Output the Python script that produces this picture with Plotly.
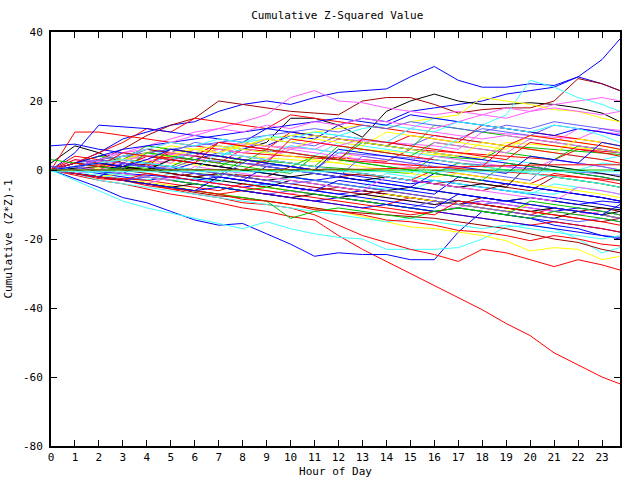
import plotly.graph_objects as go

hours = list(range(24)) + [23.75]
x_tick_vals = list(range(24))
y_tick_vals = [-80, -60, -40, -20, 0, 20, 40]

s01 = [0, 2, 5, 9, 11, 13, 14, 17, 19, 20, 19, 21, 22.5, 23, 23.5, 27, 30, 26, 24, 24, 25, 24.5, 27, 25, 23]
s02 = [0, 1, 0, -1, 2, 4, 3, 5, 8, 7, 10, 9, 13, 15, 14, 17, 18, 19, 20, 22, 23, 24, 27, 32, 38]
s03 = [0, 1, 2, 3, 5, 6, 5, 4, 6, 8, 15, 15, 13, 9.5, 17, 20, 22, 20, 19, 19, 19.5, 19, 18, 16.5, 14]
s04 = [0, 1, 3, 6, 10, 13, 15, 20, 19, 18, 17, 16.5, 16, 20, 21, 21, 19, 16.5, 17.5, 18, 18, 20, 26.5, 25, 23]
s05 = [0, 2, 4, 5, 7, 9, 11, 12, 14, 16, 21, 23, 20, 19.5, 18, 17, 16, 17, 16, 18, 17, 19, 20, 21, 20]
s06 = [0, -1, 0, 1, 2, 4, 5, 6, 8, 9, 10, 11, 10, 12, 13, 12, 15, 14, 13, 16, 26, 24, 21, 19, 17]
s07 = [0, 1, 2, 3, 4, 4, 5, 6, 7, 9, 10, 11, 12, 13, 12, 14, 15, 16, 21, 20, 19, 17.5, 17, 15, 14]
s08 = [0, -1.5, -3, -4, -5.5, -7, -8, -9.5, -11, -12, -13.5, -14.5, -19, -23, -26.5, -30, -33.5, -37, -40.5, -44.5, -48, -53, -56.5, -60, -62]
s09 = [0, -2.5, -5, -8, -9.5, -12, -14.5, -16, -15.5, -18.5, -21.5, -25, -24, -24.5, -24.5, -26, -26, -18, -12, -13, -14, -16, -17, -19, -20]
s10 = [0, -3, -6, -9, -11, -12.5, -14, -15.5, -17, -15, -17, -18.5, -19.5, -20, -23, -23, -23, -22.5, -20, -16.5, -16, -17, -20, -24, -22.5]
s11 = [0, -1, -2, -3, -4.5, -5.5, -7, -8, -9.5, -10, -11, -13, -16, -19, -21, -23, -24.5, -26.5, -23, -24, -26, -28, -26, -27.5, -29]
s12 = [0, -1, -2, -3, -3.5, -4.5, -6, -7, -8, -9, -10, -11, -12, -13.5, -15, -16.5, -17, -18, -19, -20.5, -23.5, -22.5, -23, -26, -25]
s13 = [0, -1, -2, -3, -4, -5, -6.5, -7.5, -8, -9, -10, -11, -12, -12.5, -13, -13.5, -14, -15, -16, -17, -18.5, -20, -21, -23, -24]
s14 = [0, 2, 1.5, 1, 4, 3.5, 3, 2, 6, 5.5, 5, 4, 3.5, 3, 2.5, 6, 5.5, 5, 4.5, 4, 3.5, 3, 6, 5.5, 5]
s15 = [0, -1, -2, 1, 0.5, 0, -1, -1.5, 3, 2.5, 2, 1, 0.5, 0, -0.5, -1, 4, 3.5, 3, 7, 6.5, 6, 5.5, 5, 4.5]
s16 = [1, 0, -1, -2, -3, -2, -3, -4, -5, -4, -5, -6, -7, -6, -7, -8, -9, -10, -9, -10, -11, -12, -11, -12, -13]
s17 = [0, 3, 2.5, 2, 5, 4.5, 4, 8, 7.5, 7, 6.5, 6, 9, 8.5, 8, 7.5, 7, 6, 11, 10.5, 10, 9.5, 9, 12, 11.5]
s18 = [0, -1, -1.5, -2.5, -3, -1, -2, -3, -4, -4.5, -2, -3, -4, -5, -5.5, -6, -3, -4, -5, -6, -6.5, -7, -5, -6, -7]
s19 = [0, 1, 3, 2, 1.5, 1, 0, -1, -1.5, -2, 1, 0, -1, -1.5, -2, -3, -4, -3, -4, -5, -6, -2, -3, -4, -5]
s20 = [0, 1, 0.5, 3, 2.5, 2, 1.5, 1, 4, 3.5, 3, 2.5, 2, 6, 5.5, 5, 4.5, 4, 3.5, 8, 7.5, 7, 6.5, 6, 5.5]
s21 = [2, 7, 5, 2, 1, -1, -2, -3, -4, -5, -3, -4, -5, -6, -7, -8, -9, -10, -11, -12, -13, -14, -12, -13, -14]
s22 = [0, 1, 2, 1.5, 1, 0.5, 3, 2.5, 2, 1.5, 1, 0, 5, 4.5, 4, 3.5, 3, 2, 1.5, 1, 0.5, 0, -0.5, -1, -1.5]
s23 = [0, -1, -2, -2.5, -3, -4, -5, -6, -4, -5, -6, -7, -8, -9, -10, -8, -9, -10, -11, -12, -13, -11, -12, -13, -14]
s24 = [0, 1, 2, 3, 2, 1, 4, 3, 2, 6, 5, 4, 3, 2, 1, 0, -1, 2, 1, 0, -1, -2, -3, -4, -5]
s25 = [7, 7.5, 6, 5, 4, 3, 5, 4, 3, 2, 1, 0, -1, -2, -3, -4, -3, -4, -5, -6, -7, -8, -9, -10, -11]
s26 = [0, -1, -2, -3, -4, -2, -3, -4, -5, -6, -7, -5, -6, -7, -8, -9, -10, -11, -9, -10, -11, -12, -13, -12, -13]
s27 = [0, 1, 3, 5, 4, 6, 5, 4, 7, 6, 5, 4, 8, 7, 6, 5, 4, 3, 2, 3, 2, 1, 0, 2, 1.5]
s28 = [0, 2, 1, 0, -1, -2, -1, -2, -3, -4, -5, -6, -5, -6, -7, -8, -9, -10, -8, -9, -10, -11, -12, -11, -12]
s29 = [0, -1, -2, -1, -2, -3, -4, -5, -6, -5, -6, -7, -8, -9, -7, -8, -9, -10, -11, -12, -10, -11, -12, -13, -14]
s30 = [0, 0.5, 1, 0.5, 0, -1, -2, -1, -2, -3, -2, -3, -4, -5, -6, -5, -6, -7, -8, -9, -8, -9, -10, -11, -11.5]
s31 = [0, 2, 4, 3, 6, 5, 8, 7, 6, 9, 8, 7, 10, 9, 8, 7, 10, 9, 12, 11, 10, 13, 12, 11, 10]
s32 = [0, 1, 0, 3, 2, 5, 4, 8, 7, 6, 11, 10, 9, 8, 7, 10, 9, 8, 13, 12, 11, 10, 9, 8, 7]
s33 = [0, 1, 2, 1, 0, 3, 2, 1, 4, 3, 2, 1, 7, 6, 5, 4, 8, 7, 6, 5, 4, 3, 7, 6, 5]
s34 = [0, -1, -2, -3, -2, -3, -4, -5, -6, -7, -8, -9, -8, -9, -10, -11, -12, -11, -12, -13, -14, -15, -16, -17, -18]
s35 = [0, 1, 2, 4, 3, 2, 6, 5, 4, 3, 7, 6, 5, 4, 3, 2, 8, 7, 6, 5, 9, 8, 12, 11, 10.5]
s36 = [0, -1, -0.5, -1.5, -2, -3, -2.5, -3.5, 0, -1, -2, -3, -4, -5, -1, -2, -3, -4, -5, -6, -7, -4, -5, -6, -7]
s37 = [0, 1, 2, 1, 0, -1, -2, -1, -2, -3, -4, -5, -6, -7, -6, -7, -8, -9, -10, -11, -12, -13, -14, -15, -14]
s38 = [0, 2, 4, 3, 5, 7, 6, 5, 8, 7, 6, 9, 8, 7, 11, 10, 9, 8, 7, 6, 10, 9, 8, 7, 6]
s39 = [0, -1, -2, -3, -4, -5, -4, -5, -6, -7, -8, -7, -8, -7, -8, -9, -10, -9, -10, -11, -12, -11, -12, -13, -12]
s40 = [0, -1, -2, -3, -2, -3, -4, -5, -6, -7, -6, -7, -8, -9, -10, -11, -9, -10, -11, -12, -13, -14, -15, -14, -15]
s41 = [0, 3, 2, 1, 4, 3, 2, 1, 0, 3, 2, 1, 0, -1, -2, -3, 0, -1, -2, -3, -4, -1, -2, -3, -4]
s42 = [0, 1, 0, -1, -2, -3, -4, -5, -6, -5, -6, -7, -8, -9, -10, -11, -12, -11, -12, -13, -14, -12, -13, -14, -15]
s43 = [0, 1, 3, 2, 1, 0, 2, 1, 0, -1, -2, -3, -2, -3, -4, -5, -6, -7, -8, -9, -8, -9, -10, -9, -9.5]
s44 = [0, -1, 0, 2, 1, 3, 2, 5, 4, 3, 6, 5, 4, 3, 2, 1, 4, 3, 2, 1, 0, 3, 2, 1, 0]
s45 = [0, 1, 2, 3, 4, 3, 5, 4, 6, 5, 7, 6, 5, 8, 7, 6, 5, 9, 8, 7, 6, 5, 4, 3, 4]
s46 = [0, -1, -2, -3, -4, -5, -6, -7, -6, -7, -8, -9, -10, -11, -12, -13, -12, -13, -14, -15, -16, -15, -16, -17, -18]
s47 = [0, -1, -2, -3, -4, -5, -6, -5, -6, -7, -8, -9, -10, -11, -10, -11, -12, -13, -14, -15, -16, -17, -18, -19, -19.5]
s48 = [0, 2, 4, 3, 7, 6, 5, 4, 3, 2, 1, 4, 3, 8, 7, 6, 13, 12, 11, 10, 9, 8, 7, 6, 5]
s49 = [0, 2, 5, 8, 12, 11, 15, 14, 13, 12, 16, 15, 14, 13, 12, 11, 10, 9, 8, 7, 10, 9, 8, 7, 6]
s50 = [0, 11, 11, 10, 9, 8, 7, 6, 5, 4.5, 4, 3.5, 3, 2.5, 2, 1.5, 1, 0.5, 0, -0.5, -1, -1.5, -2, -2.5, -3]
s51 = [0, 5, 13, 12.5, 12, 11, 10, 9, 8, 12, 11, 10, 9, 8, 7, 6, 5, 4, 3, 2, 1, 0, -1, -2, -3]
s52 = [0, 1, 2, 3, 2, 1, 0, -1, -2, -3, -4, -3, -4, -5, -6, -7, -8, -9, -10, -9, -10, -11, -12, -13, -14]
s53 = [0, 1, 2, 4, 6, 5, 4, 3, 2, 1, 0, -1, -2, -1, -2, -3, -4, -5, -6, -4, -5, -6, -7, -8, -9]
s54 = [0, 1, 2, 3, 4, 5, 6, 7, 6, 5, 4, 3, 2, 1, 0, -1, -2, -1, -2, -3, -4, -5, -6, -7, -8]
s55 = [0, -1, -3, -4, -5, -6, -7, -8, -9, -10, -11, -12, -13, -14, -15, -14, -15, -16, -17, -16, -17, -18, -19, -20, -19]
s56 = [0, -1, -2, -3, -4, -5, -6, -7, -8, -9, -14, -12, -11, -12, -13, -14, -12, -11, -12, -13, -9, -10, -11, -12, -13]
s57 = [0, -1, -2.5, -3, -4, -5.5, -6, -7, -8.5, -9, -10, -11.5, -12, -13, -14.5, -15, -16, -17.5, -18, -19, -20.5, -19, -20, -21.5, -22]
s58 = [0, 1, -0.5, -1, -1.5, -2, -3, -2, -3, -4, -5, -6, -3, -4, -5, -6, -7, -2, -3, -4, -5, -6, -7, -8, -9]
s59 = [0, 1, 2, 3, 4, 5, 4, 6, 5, 7, 6, 8, 7, 9, 8, 12, 11, 10, 9, 10, 9, 8, 7, 6, 5]
s60 = [0, 1, 2, 1, 0, 3, 2, 1, 0, -1, -2, -1, -2, -3, -2, -3, -4, -5, -4, -5, 2, 1, 0, -1, -2]
s61 = [0, 2, 3, 4, 5, 6, 7, 8, 9, 10, 11, 12, 11, 13, 12, 14, 13, 12, 11, 13, 12, 14, 13, 12, 11]
s62 = [0, 2, 4, 6, 7, 8, 9, 10, 11, 12, 13, 14, 15, 14, 13, 16, 15, 14, 13, 12, 11, 10, 12, 11, 10]
s63 = [0, 1, 3, 5, 6, 8, 10, 12, 11, 13, 12, 14, 13, 15, 14, 13, 12, 14, 16, 15, 17, 18, 17, 16, 17]
s64 = [0, 1, 2, 4, 6, 8, 7, 9, 8, 10, 9, 11, 10, 9, 8, 12, 11, 14, 13, 12, 11, 13, 12, 10, 8]
s65 = [0, 1, 2, 3, 5, 4, 6, 5, 7, 9, 8, 10, 9, 8, 7, 6, 5, 4, 8, 7, 6, 5, 9, 8, 7]
s66 = [0, 0, 0, 0, 0, 0, 0, 0, 0, 0, 0, 0, 0, 0.2, 0.4, 0.6, 0.8, 1, 1.2, 1.3, 1.4, 1.5, 1.5, 1.5, 1.5]
s67 = [0, 0, 0, 0, 0, 0, 0, 0, 0, 0, 0, 0, 0, 0, 0, 0, 0, 0, 0, 0, 0, 0, 0, 0, 0]
s68 = [-0.5, -0.5, -0.5, -0.5, -0.5, -0.5, -0.5, -0.5, -0.5, -0.5, -0.5, -0.5, -0.5, -0.5, -0.5, -0.5, -0.5, -0.5, -0.5, -0.5, -0.5, -0.5, -0.5, -0.5, -0.5]
s69 = [0, 4, 3, 2, 1, 6, 5, 4, 3, 2, 9, 8, 7, 6, 5, 4, 3, 2, 1, 7, 6, 5, 4, 3, 2]
s70 = [0, -1, -2, 2, 1, 0, -1, -2, -3, 1, 0, -1, -2, -3, -4, -5, -1, -2, -3, -4, -5, -6, -7, -8, -9]
s71 = [3, 2, 1, 0, 5, 4, 3, 2, 1, 0, -1, 4, 3, 2, 1, 0, -1, -2, -3, 2, 1, 0, -1, -2, -3]
s72 = [0, 1, 0, -1, -2, -3, 1, 0, -1, -2, -3, -4, -5, -6, -2, -3, -4, -5, -6, -7, -8, -9, -5, -6, -7]
s73 = [0, 2, 1, 5, 4, 3, 2, 8, 7, 6, 5, 4, 3, 9, 8, 7, 6, 5, 4, 3, 8, 7, 6, 5, 4]
s74 = [0, -1, -2, -3, -4, -5, -6, -2, -3, -4, -5, -6, -7, -8, -9, -10, -11, -7, -8, -9, -10, -11, -12, -13, -10]
s75 = [1, 0, 3, 2, 1, 0, -1, -2, 2, 1, 0, -1, -2, 4, 3, 2, 1, 0, -1, -2, -3, 3, 2, 1, 0]
s76 = [0, 1, 2, 3, 2, 1, 0, 5, 4, 3, 2, 1, 0, -1, -2, -3, 3, 2, 1, 0, -1, -2, -3, -4, -5]
s77 = [0, -1, -2, -3, -1, -2, -3, -4, -5, -6, -7, -8, -9, -10, -11, -12, -13, -9, -10, -11, -12, -13, -14, -15, -16]
s78 = [0, 1, 2, 1, 3, 6, 5, 4, 3, 2, 1, 0, 6, 5, 4, 3, 2, 1, 0, -1, 4, 3, 2, 8, 7]

series = [s01, s02, s03, s04, s05, s06, s07, s08, s09, s10, s11, s12, s13, s14, s15, s16,
          s17, s18, s19, s20, s21, s22, s23, s24, s25, s26, s27, s28, s29, s30, s31, s32,
          s33, s34, s35, s36, s37, s38, s39, s40, s41, s42, s43, s44, s45, s46, s47, s48,
          s49, s50, s51, s52, s53, s54, s55, s56, s57, s58, s59, s60, s61, s62, s63, s64,
          s65, s69, s70, s71, s72, s73, s74, s75, s76, s77, s78, s66, s67, s68]

RED, GREEN, BLUE, PINK, CYAN, DRED, YELLOW, BLACK, SLATE = (
    "#ff0000", "#00c000", "#0000ff", "#ff60ff", "#40ffff", "#a00000", "#ffff00", "#000000", "#6060ff")

line_colors = [BLUE, BLUE, BLACK, DRED, PINK, CYAN, YELLOW, RED, BLUE, CYAN, RED, YELLOW, DRED,
               RED, GREEN, BLUE, PINK, CYAN, DRED, YELLOW, BLACK, SLATE, RED, GREEN, BLUE, PINK,
               CYAN, DRED, YELLOW, BLACK, SLATE, RED, GREEN, BLUE, PINK, CYAN, DRED, YELLOW,
               BLACK, SLATE, RED, GREEN, BLUE, PINK, CYAN, RED, BLUE, GREEN, RED, RED, BLUE,
               SLATE, DRED, YELLOW, CYAN, GREEN, RED, BLUE, PINK, BLACK, SLATE, BLUE, PINK,
               CYAN, YELLOW,
               RED, BLUE, GREEN, PINK, RED, BLUE, SLATE, CYAN, RED, BLUE,
               RED, GREEN, CYAN]

fig = go.Figure()
for vals, col in zip(series, line_colors):
    fig.add_trace(go.Scatter(
        x=hours, y=vals, mode="lines",
        line=dict(color=col, width=1),
        showlegend=False, hoverinfo="skip"))

font_family = "DejaVu Sans Mono"
axis_common = dict(
    showline=True, linecolor="black", linewidth=2, mirror="ticks",
    ticks="inside", ticklen=6, tickwidth=1, tickcolor="black",
    showgrid=False, zeroline=False, automargin=False,
    tickfont=dict(family=font_family, size=11, color="black"),
)

fig.update_layout(
    width=640, height=480,
    margin=dict(l=51, r=20, t=32, b=34, autoexpand=False),
    paper_bgcolor="white", plot_bgcolor="white",
    font=dict(family=font_family, size=11, color="black"),
    title=dict(text="Cumulative Z-Squared Value", x=0.527, xanchor="center",
               y=0.968, yanchor="middle", yref="container",
               font=dict(family=font_family, size=11, color="black")),
    xaxis=dict(range=[0, 23.75], tickvals=x_tick_vals, ticktext=[str(v) for v in x_tick_vals],
               title=dict(text="Hour of Day", standoff=4,
                          font=dict(family=font_family, size=11)),
               **axis_common),
    yaxis=dict(range=[-80, 40], tickvals=y_tick_vals, ticktext=[str(v) for v in y_tick_vals],
               ticklabelstandoff=4,
               title=dict(text="Cumulative (Z*Z)-1", standoff=8,
                          font=dict(family=font_family, size=11)),
               **axis_common),
)

fig.write_html("out.html")
